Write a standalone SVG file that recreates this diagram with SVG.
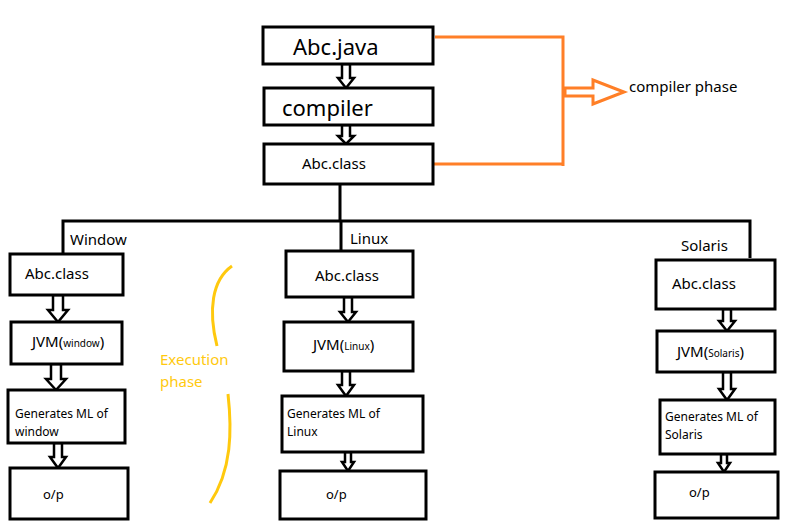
<svg xmlns="http://www.w3.org/2000/svg" width="791" height="532" viewBox="0 0 791 532">
<style>
.b{fill:#fff;stroke:#000;stroke-width:3}
.a{fill:#fff;stroke:#000;stroke-width:2.5;stroke-linejoin:miter}
.l{fill:none;stroke:#000;stroke-width:3}
.o{fill:none;stroke:#ff7f27;stroke-width:3}
.y{fill:none;stroke:#ffc90e;stroke-width:3}
text{font-family:"Noto Sans","Open Sans",sans-serif;fill:#000}
.s{font-size:10px}
</style>
<rect width="791" height="532" fill="#fff"/>
<g id="connectors">
<path class="l" d="M340 184V221M63 253V221H750V258M341 221V251"/>
<path class="o" d="M435 37H563V166M433 164H563"/>
<polygon fill="#fff" stroke="#ff7f27" stroke-width="3" points="565,88 593,88 593,80 624,92 593,104 593,96 565,96"/>
<path class="y" d="M232 266C212 280 208 310 217 346M228 394C232 430 232 470 210 503"/>
<polygon class="a" points="342,64 350,64 350,78 354,78 346,88 338,78 342,78"/>
<polygon class="a" points="342,125 350,125 350,136 354,136 346,144 338,136 342,136"/>
<polygon class="a" points="53,295 63,295 63,310 68,310 58,322 48,310 53,310"/>
<polygon class="a" points="51,364 61,364 61,379 66,379 56,390 46,379 51,379"/>
<polygon class="a" points="54,443 62,443 62,457 66,457 58,468 50,457 54,457"/>
<polygon class="a" points="344,297 352,297 352,312 356,312 348,322 340,312 344,312"/>
<polygon class="a" points="342,371 350,371 350,385 354,385 346,396 338,385 342,385"/>
<polygon class="a" points="345,452 351,452 351,462 354,462 348,471 342,462 345,462"/>
<polygon class="a" points="723,309 731,309 731,321 735,321 727,331 719,321 723,321"/>
<polygon class="a" points="723,372 731,372 731,389 735,389 727,400 719,389 723,389"/>
<polygon class="a" points="721,454 727,454 727,463 730,463 724,472 718,463 721,463"/>
</g>
<g id="abcjava"><rect class="b" x="263" y="27" width="170" height="37"/><text x="293" y="55" font-size="22">Abc.java</text></g>
<g id="compiler"><rect class="b" x="264" y="88" width="169" height="37"/><text x="282" y="116" font-size="22">compiler</text></g>
<g id="abcclass"><rect class="b" x="264" y="144" width="169" height="40"/><text x="302" y="169" font-size="15">Abc.class</text></g>
<text x="629" y="92" font-size="15">compiler phase</text>
<text x="160" y="365" font-size="15" fill="#ffc90e" style="fill:#ffc90e">Execution</text>
<text x="160" y="387" font-size="15" style="fill:#ffc90e">phase</text>
<text x="70" y="245" font-size="15">Window</text>
<text x="350" y="244" font-size="15">Linux</text>
<text x="681" y="251" font-size="15">Solaris</text>
<g id="w1"><rect class="b" x="10" y="254" width="113" height="41"/><text x="25" y="279" font-size="15">Abc.class</text></g>
<g id="w2"><rect class="b" x="11" y="322" width="111" height="42"/><text x="32" y="347" font-size="15">JVM(<tspan class="s">window</tspan>)</text></g>
<g id="w3"><rect class="b" x="8" y="390" width="117" height="53"/><text x="15" y="418" font-size="12">Generates ML of</text><text x="15" y="436" font-size="12">window</text></g>
<g id="w4"><rect class="b" x="10" y="468" width="118" height="51"/><text x="43" y="499" font-size="13">o/p</text></g>
<g id="l1"><rect class="b" x="286" y="251" width="127" height="46"/><text x="315" y="281" font-size="15">Abc.class</text></g>
<g id="l2"><rect class="b" x="284" y="322" width="129" height="49"/><text x="313" y="350" font-size="15">JVM(<tspan class="s">Linux</tspan>)</text></g>
<g id="l3"><rect class="b" x="282" y="396" width="141" height="56"/><text x="287" y="418" font-size="12">Generates ML of</text><text x="287" y="436" font-size="12">Linux</text></g>
<g id="l4"><rect class="b" x="280" y="471" width="146" height="48"/><text x="326" y="499" font-size="13">o/p</text></g>
<g id="s1"><rect class="b" x="656" y="260" width="119" height="49"/><text x="672" y="289" font-size="15">Abc.class</text></g>
<g id="s2"><rect class="b" x="657" y="331" width="118" height="41"/><text x="677" y="357" font-size="15">JVM(<tspan class="s">Solaris</tspan>)</text></g>
<g id="s3"><rect class="b" x="660" y="400" width="115" height="54"/><text x="665" y="421" font-size="12">Generates ML of</text><text x="665" y="439" font-size="12">Solaris</text></g>
<g id="s4"><rect class="b" x="655" y="472" width="123" height="46"/><text x="689" y="497" font-size="13">o/p</text></g>
</svg>
